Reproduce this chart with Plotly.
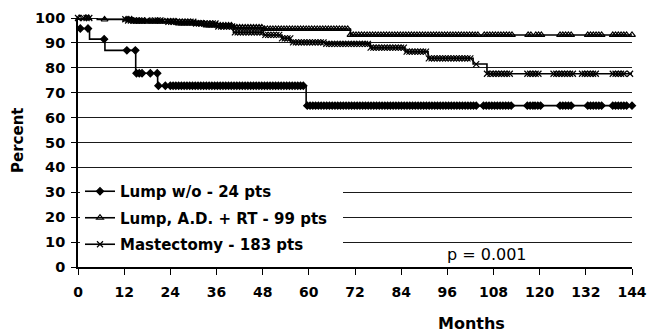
import numpy as np
import plotly.graph_objects as go

# ---------------- data ----------------
x_ticks = [0, 12, 24, 36, 48, 60, 72, 84, 96, 108, 120, 132, 144]
y_ticks = [0, 10, 20, 30, 40, 50, 60, 70, 80, 90, 100]

series_names = ["Lump w/o - 24 pts", "Lump, A.D. + RT - 99 pts", "Mastectomy - 183 pts"]

# step changes (time in months, survival percent after the step)
lump_wo_times = [0, 3.0, 7.0, 15.0, 20.7, 59.3]
lump_wo_surv = [95.8, 91.5, 87.0, 77.8, 72.8, 64.8]

lump_ad_times = [0, 5.0, 14.0, 26.0, 33.0, 40.4, 48.2, 70.8]
lump_ad_surv = [100, 99.4, 98.6, 97.8, 97.0, 96.2, 95.6, 93.2]

mast_times = [0, 7.0, 13.0, 22.0, 30.0, 36.0, 40.4, 48.2, 53.0, 55.2, 64.3, 76.0, 85.0, 91.0, 102.7, 106.3]
mast_surv = [100, 99.5, 99.0, 98.5, 97.8, 96.6, 94.2, 93.2, 91.8, 90.2, 89.6, 88.1, 86.5, 83.8, 81.5, 77.6]

# censored observations: runs of marks (start month, end month)
lump_wo_censor = [(0.6, 0.6), (2.6, 2.6), (6.8, 6.8), (12.7, 12.7), (14.9, 14.9), (15.2, 17.3),
                  (18.8, 18.8), (20.6, 20.6), (20.9, 20.9), (22.7, 22.7), (24.0, 59.1),
                  (59.6, 104.0), (105.4, 113.0), (116.8, 118.3), (118.8, 120.9), (125.3, 128.7),
                  (132.5, 136.2), (139.0, 143.0), (144.0, 144.0)]
lump_ad_censor = [(0.3, 0.3), (2.0, 3.0), (6.9, 6.9), (12.5, 104.0), (105.6, 113.0), (117.0, 118.3),
                  (119.0, 121.0), (125.3, 128.7), (132.5, 136.5), (139.0, 143.0), (144.0, 144.0)]
mast_censor = [(0.0, 0.0), (1.5, 3.0), (12.3, 16.7), (18.0, 18.0), (20.0, 22.0), (23.5, 102.5),
               (103.5, 103.5), (106.3, 106.3), (107.2, 112.6), (116.8, 120.0), (123.6, 128.7),
               (131.0, 135.3), (139.0, 142.0), (143.5, 144.3)]

p_text = "p = 0.001"

# ---------------- style ----------------
MARK_GAP = 0.72          # spacing of the drawn censor marks inside a run (months)
FONT_B = "DejaVu Sans"
symbols = ["diamond", "triangle-up-open", "x-thin-open"]


def expand(runs):
    out = []
    for a, b in runs:
        if b <= a:
            out.append(a)
        else:
            out.extend(np.arange(a, b + 1e-9, MARK_GAP).tolist())
    return np.array(out)


def lookup(times, surv, t):
    idx = np.searchsorted(np.array(times), t, side="right") - 1
    idx = np.clip(idx, 0, len(surv) - 1)
    return np.array(surv)[idx]


fig = go.Figure()

all_series = [
    (lump_wo_times, lump_wo_surv, lump_wo_censor),
    (lump_ad_times, lump_ad_surv, lump_ad_censor),
    (mast_times, mast_surv, mast_censor),
]
sizes = [5.5, 6, 6]

for i, (times, surv, cens) in enumerate(all_series):
    sym = symbols[i]
    mline = dict(color="black", width=1.2)
    fig.add_trace(go.Scatter(
        x=list(times) + [x_ticks[-1]], y=list(surv) + [surv[-1]],
        mode="lines", line=dict(color="black", width=1.6, shape="hv"),
        showlegend=False, hoverinfo="skip", cliponaxis=False))
    ct = expand(cens)
    fig.add_trace(go.Scatter(
        x=ct, y=lookup(times, surv, ct), mode="markers",
        marker=dict(symbol=sym, size=sizes[i], color="black", line=mline),
        showlegend=False, cliponaxis=False))

for i, name in enumerate(series_names):
    fig.add_trace(go.Scatter(
        x=[None], y=[None], mode="lines+markers", name=name,
        line=dict(color="black", width=1.6),
        marker=dict(symbol=symbols[i], size=sizes[i], color="black", line=dict(color="black", width=1.2)),
        legendgroup=str(i)))

# white patch behind legend (hides grid lines as in the reference)
fig.add_shape(type="rect", xref="paper", yref="paper",
              x0=(80 - 78) / 554, x1=(343 - 78) / 554, y0=(267 - 262) / 249, y1=(267 - 173) / 249,
              fillcolor="white", line=dict(width=0), layer="above")

fig.add_annotation(x=106.3, y=4.9, xref="x", yref="y", text=p_text, showarrow=False,
                   xanchor="center", yanchor="middle",
                   font=dict(family=FONT_B, size=16, color="black"))
fig.add_annotation(x=(471 - 78) / 554, y=(267 - 323) / 249, xref="paper", yref="paper",
                   text="<b>Months</b>", showarrow=False, xanchor="center", yanchor="middle",
                   font=dict(family=FONT_B, size=16, color="black"))
fig.add_annotation(x=(18 - 78) / 554, y=(267 - 141) / 249, xref="paper", yref="paper",
                   text="<b>Percent</b>", textangle=-90, showarrow=False,
                   xanchor="center", yanchor="middle",
                   font=dict(family=FONT_B, size=15, color="black"))

fig.update_layout(
    width=647, height=332,
    margin=dict(l=78, r=15, t=18, b=65, autoexpand=False),
    paper_bgcolor="white", plot_bgcolor="white",
    font=dict(family=FONT_B, color="black"),
    showlegend=True,
    legend=dict(x=(80 - 78) / 554, y=(267 - 175) / 249, xanchor="left", yanchor="top",
                bgcolor="rgba(0,0,0,0)", borderwidth=0, tracegroupgap=4,
                font=dict(family=FONT_B, size=15, color="black", weight="bold"),
                itemwidth=30),
    xaxis=dict(range=[0, 144], tickvals=x_ticks, ticktext=[f"<b>{v}</b>" for v in x_ticks],
               ticks="outside", ticklen=6, tickwidth=1.3, tickcolor="black",
               showline=True, linecolor="black", linewidth=1.6, showgrid=False, zeroline=False,
               tickfont=dict(family=FONT_B, size=14, color="black"), ticklabelstandoff=5,
               ticklabeloverflow="allow", automargin=False),
    yaxis=dict(range=[0, 100], tickvals=y_ticks, ticktext=[f"<b>{v}</b>" for v in y_ticks],
               ticks="outside", ticklen=5, tickwidth=1.3, tickcolor="black",
               showline=True, linecolor="black", linewidth=1.6,
               showgrid=True, gridcolor="#1a1a1a", gridwidth=1.2, zeroline=False,
               tickfont=dict(family=FONT_B, size=14.5, color="black"), ticklabelstandoff=3,
               automargin=False),
)

fig.write_html("out.html", config={"displayModeBar": False},
               post_script="document.body.style.margin='0';document.body.style.overflow='hidden';")
